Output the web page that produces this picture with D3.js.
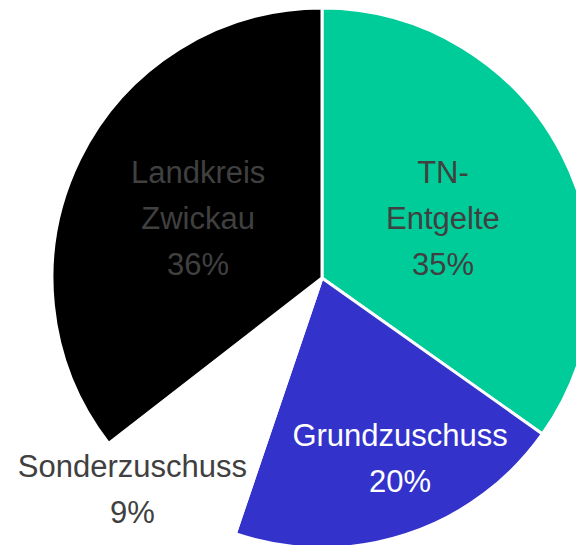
<!DOCTYPE html>
<html><head><meta charset="utf-8">
<script src="https://cdn.jsdelivr.net/npm/d3@7"></script>
<style>html,body{margin:0;padding:0;background:#fff;}svg{display:block;}</style>
</head><body>
<svg id="chart" width="576" height="545"></svg>
<script>
const categories = ["TN-Entgelte", "Grundzuschuss", "Sonderzuschuss", "Landkreis Zwickau"];
const labelLines = [["TN-", "Entgelte"], ["Grundzuschuss"], ["Sonderzuschuss"], ["Landkreis", "Zwickau"]];
const values = [34.8, 20.4, 9.3, 35.5];
const percentLabels = ["35%", "20%", "9%", "36%"];
const colors = ["#00CC99", "#3333CC", "#FFFFFF", "#000000"];
const textColors = ["#404040", "#FFFFFF", "#404040", "#404040"];

const W = 576, H = 545;
const cx = 322, cy = 278, R = 270;
// label placement (radius factor, angle offset in degrees)
const labelPlace = [[0.50, 1], [0.725, -5.5], [1.05, 6.5], [0.51, -0.2]];

const svg = d3.select("#chart");
const g = svg.append("g").attr("transform", `translate(${cx},${cy})`);
const pie = d3.pie().sort(null).value(d => d)(values);
const arc = d3.arc().innerRadius(0).outerRadius(R);

g.selectAll("path.slice").data(pie).enter().append("path")
  .attr("class", "slice")
  .attr("d", arc)
  .attr("fill", (d, i) => colors[i])
  .attr("stroke", "#FFFFFF")
  .attr("stroke-width", 3)
  .attr("stroke-linejoin", "round");

const lineH = 46;
pie.forEach((d, i) => {
  const [rf, off] = labelPlace[i];
  const a = (d.startAngle + d.endAngle) / 2 + off * Math.PI / 180;
  const r = rf * R;
  const x = Math.sin(a) * r, y = -Math.cos(a) * r;
  const lines = labelLines[i].concat([percentLabels[i]]);
  const t = g.append("text")
    .attr("text-anchor", "middle")
    .attr("dominant-baseline", "central")
    .attr("font-family", "'Liberation Sans', Arial, sans-serif")
    .attr("font-size", "31px")
    .attr("fill", textColors[i]);
  lines.forEach((ln, k) => {
    t.append("tspan")
      .attr("x", x)
      .attr("y", y + (k - (lines.length - 1) / 2) * lineH)
      .text(ln);
  });
});
</script>
</body></html>
